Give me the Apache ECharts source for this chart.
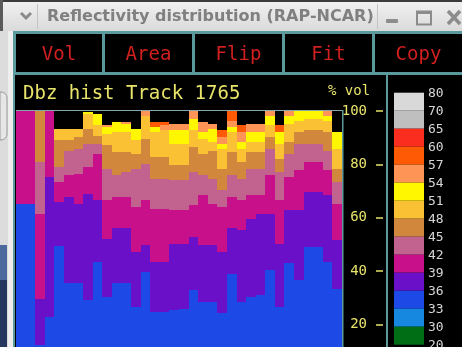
<!DOCTYPE html>
<html>
<head>
<meta charset="utf-8">
<script src="https://cdn.jsdelivr.net/npm/echarts@6/dist/echarts.min.js"></script>
<style>
html, body { margin: 0; padding: 0; overflow: hidden; background: #000; }
#chart { width: 462px; height: 400px; }
</style>
</head>
<body>
<div id="chart"></div>
<script>
// Radar scans along the track (one column each)
const scans = [1, 2, 3, 4, 5, 6, 7, 8, 9, 10, 11, 12, 13, 14, 15, 16, 17,
  18, 19, 20, 21, 22, 23, 24, 25, 26, 27, 28, 29, 30, 31, 32, 33, 34];

// Cumulative % of volume with reflectivity below each threshold (dBZ)
const below36 = [65.3, 65.3, 12.3, 22.9, 49.3, 35.6, 35.6, 29.2, 43.5, 30.4, 35.4, 35.4, 26.7, 39.8, 24.8, 24.8, 25.4,
  26.0, 32.9, 28.5, 28.5, 24.2, 39.1, 28.5, 30.4, 31.0, 40.4, 26.7, 42.9, 36.6, 49.1, 49.1, 43.5, 33.5];
const below39 = [65.3, 65.3, 29.5, 75.3, 65.9, 67.8, 65.3, 69.0, 66.5, 52.2, 56.0, 56.0, 47.2, 49.7, 43.5, 43.5, 50.3,
  50.3, 52.8, 49.7, 49.7, 47.2, 56.0, 55.4, 59.7, 61.6, 61.6, 50.3, 62.8, 62.8, 69.7, 69.7, 68.4, 51.6];
const below42 = [100, 100, 61.6, 100, 73.4, 75.9, 76.5, 79.0, 84.0, 66.5, 67.8, 67.8, 64.0, 66.5, 63.4, 63.4, 62.8,
  62.8, 64.7, 68.4, 65.3, 64.0, 67.8, 66.5, 68.4, 68.4, 75.9, 66.5, 75.3, 77.8, 80.9, 80.9, 77.8, 65.3];
const below45 = [100, 100, 80.9, 100, 79.0, 85.2, 85.9, 87.7, 87.7, 78.4, 75.9, 77.1, 78.4, 80.2, 74.6, 74.6, 74.0,
  74.0, 77.1, 75.9, 74.6, 70.3, 75.9, 74.6, 78.4, 78.4, 85.9, 77.1, 84.0, 87.7, 87.7, 87.7, 85.2, 73.4];
const below48 = [100, 100, 100, 100, 89.2, 89.2, 90.2, 93.3, 90.8, 87.1, 84.6, 84.6, 84.0, 89.6, 82.7, 82.7, 79.6,
  79.6, 86.5, 84.0, 85.2, 78.4, 84.6, 80.9, 84.6, 84.6, 90.2, 82.1, 88.3, 92.1, 92.7, 92.7, 92.1, 78.4];
const below51 = [100, 100, 100, 100, 93.3, 93.3, 93.3, 99.0, 94.6, 91.5, 92.1, 92.1, 89.0, 98.3, 92.1, 92.7, 87.7,
  87.7, 92.7, 89.6, 88.3, 85.9, 92.1, 85.9, 88.3, 88.3, 94.6, 87.7, 95.2, 96.4, 97.1, 97.1, 96.4, 85.9];
const below54 = [100, 100, 100, 100, 93.3, 93.3, 93.3, 99.6, 99.0, 94.0, 95.8, 95.2, 93.3, 98.3, 94.0, 92.7, 92.7,
  92.7, 97.1, 92.1, 93.3, 87.7, 94.0, 88.3, 92.1, 92.1, 98.3, 92.1, 98.3, 100, 100, 100, 98.3, 92.1];
const below57 = [100, 100, 100, 100, 93.3, 93.3, 93.3, 99.6, 99.0, 94.6, 95.8, 95.8, 93.3, 100, 94.0, 94.6, 95.2,
  95.2, 100, 95.8, 95.2, 90.2, 96.4, 92.1, 95.2, 95.2, 100, 92.1, 100, 100, 100, 100, 100, 92.1];
const below60 = [100, 100, 100, 100, 93.3, 93.3, 93.3, 99.6, 99.0, 94.6, 95.8, 95.8, 93.3, 100, 95.8, 95.8, 95.2,
  95.2, 100, 95.8, 95.2, 92.7, 100, 94.6, 95.2, 95.2, 100, 94.6, 100, 100, 100, 100, 100, 92.1];

// Colour scale: level labels (dBZ) and the colour between each pair
const levelLabels = ['80', '70', '65', '60', '57', '54', '51', '48', '45', '42', '39', '36', '33', '30', '20'];
const levelColors = ['#d9d9d9', '#bfbfbf', '#fb2d1e', '#fe5a05', '#fe9455', '#fff700', '#f9c133',
  '#d2883c', '#c2628f', '#c9108b', '#6b10c9', '#1d4ae6', '#1688e0', '#006e14'];

// Vertical scale ticks (% vol)
const volTicks = [0, 20, 40, 60, 80, 100];

// Button captions
const buttonNames = ['Vol', 'Area', 'Flip', 'Fit', 'Copy'];

const MONO = "'DejaVu Sans Mono', 'Liberation Mono', monospace";
const TEAL = '#5b9a9c';

// Each cumulative array is drawn as a full-height column; lower thresholds are painted over higher ones.
const layers = [
  { data: below60, color: '#fe5a05' },
  { data: below57, color: '#fe9455' },
  { data: below54, color: '#fff700' },
  { data: below51, color: '#f9c133' },
  { data: below48, color: '#d2883c' },
  { data: below45, color: '#c2628f' },
  { data: below42, color: '#c9108b' },
  { data: below39, color: '#6b10c9' },
  { data: below36, color: '#1d4ae6' }
];

// Pixel-aligned column: neighbours share their edges exactly, so no seams show
function renderColumn(params, api) {
  const i = api.value(0);
  const base = api.coord([i, 0]);
  const top = api.coord([i, api.value(1)]);
  const half = api.size([1, 0])[0] / 2;
  const x0 = Math.round(base[0] - half);
  const x1 = Math.round(base[0] + half);
  const y0 = Math.round(top[1]);
  const y1 = Math.round(base[1]);
  return {
    type: 'rect',
    shape: { x: x0, y: y0, width: x1 - x0, height: y1 - y0 },
    style: { fill: api.visual('color') }
  };
}

const series = layers.map(l => ({
  type: 'custom',
  renderItem: renderColumn,
  data: l.data.map((v, i) => [i, v]),
  encode: { x: 0, y: 1 },
  itemStyle: { color: l.color },
  silent: true
}));

// Window chrome, buttons and colour key
const graphics = [];

// title bar
graphics.push({
  type: 'rect', shape: { x: 0, y: 0, width: 462, height: 31 },
  style: { fill: new echarts.graphic.LinearGradient(0, 0, 0, 1, [
    { offset: 0, color: '#f2f2f2' }, { offset: 1, color: '#dadada' }]) }
});
graphics.push({ type: 'rect', shape: { x: 0, y: 0, width: 462, height: 2 }, style: { fill: '#3c3c3c' } });
graphics.push({ type: 'rect', shape: { x: 0, y: 0, width: 3, height: 31 }, style: { fill: '#5a5a5a' } });
graphics.push({ type: 'polyline', shape: { points: [[21, 13], [26, 18], [31, 13]] },
  style: { stroke: '#8a8a8a', lineWidth: 3, fill: null } });
graphics.push({ type: 'rect', shape: { x: 37, y: 4, width: 1, height: 25 }, style: { fill: '#c4c4c4' } });
graphics.push({ type: 'rect', shape: { x: 377, y: 4, width: 1, height: 25 }, style: { fill: '#c4c4c4' } });
graphics.push({
  type: 'text', x: 47, y: 17,
  style: { text: 'Reflectivity distribution (RAP-NCAR)', fill: '#808080',
    font: "bold 16px 'DejaVu Sans', sans-serif", textVerticalAlign: 'middle' }
});
graphics.push({ type: 'rect', shape: { x: 386, y: 19, width: 12, height: 4, r: 1 }, style: { fill: '#8c8c8c' } });
graphics.push({ type: 'rect', shape: { x: 417, y: 11.5, width: 14, height: 13 },
  style: { fill: null, stroke: '#8c8c8c', lineWidth: 2 } });
graphics.push({ type: 'rect', shape: { x: 417, y: 11, width: 14, height: 3 }, style: { fill: '#8c8c8c' } });
graphics.push({ type: 'polyline', shape: { points: [[448, 11], [460, 24]] }, style: { stroke: '#8c8c8c', lineWidth: 3.5 } });
graphics.push({ type: 'polyline', shape: { points: [[460, 11], [448, 24]] }, style: { stroke: '#8c8c8c', lineWidth: 3.5 } });

// left window edge
graphics.push({ type: 'rect', shape: { x: 0, y: 31, width: 13, height: 316 }, style: { fill: '#dcdcdc' } });
graphics.push({ type: 'rect', shape: { x: 8, y: 31, width: 5, height: 316 }, style: { fill: '#eeeeee' } });
graphics.push({ type: 'rect', shape: { x: 0, y: 92, width: 7, height: 48, r: [0, 6, 6, 0] },
  style: { fill: '#e6e6e6', stroke: '#9a9a9a', lineWidth: 1 } });
graphics.push({ type: 'rect', shape: { x: 0, y: 245, width: 7, height: 35 }, style: { fill: '#4c6a9e' } });
graphics.push({ type: 'rect', shape: { x: 0, y: 280, width: 7, height: 67 }, style: { fill: '#24365e' } });

// button row
graphics.push({ type: 'rect', shape: { x: 13, y: 31, width: 449, height: 44 }, style: { fill: TEAL } });
graphics.push({ type: 'rect', shape: { x: 13, y: 75, width: 2, height: 272 }, style: { fill: TEAL } });
const buttonEdges = [[16, 102], [105, 192], [195, 282], [285, 372], [375, 462]];
buttonNames.forEach((name, i) => {
  const [x0, x1] = buttonEdges[i];
  graphics.push({ type: 'rect', shape: { x: x0, y: 34, width: x1 - x0, height: 38 }, style: { fill: '#000' } });
  graphics.push({
    type: 'text', x: (x0 + x1) / 2, y: 55,
    style: { text: name, fill: '#d21f1f', font: '19px ' + MONO, textAlign: 'center', textVerticalAlign: 'middle' }
  });
});

// chart captions
graphics.push({ type: 'text', x: 23, y: 94,
  style: { text: 'Dbz hist Track 1765', fill: '#e8e46a', font: '19px ' + MONO, textVerticalAlign: 'middle' } });
graphics.push({ type: 'text', x: 328, y: 91,
  style: { text: '% vol', fill: '#e8e46a', font: '14px ' + MONO, textVerticalAlign: 'middle' } });

// plot frame (top and right edges)
graphics.push({ type: 'rect', shape: { x: 16, y: 110, width: 327, height: 1 }, style: { fill: '#86a8a8' }, z: 10 });
graphics.push({ type: 'rect', shape: { x: 342, y: 110, width: 1.5, height: 240 }, style: { fill: TEAL }, z: 10 });

// colour key panel
graphics.push({ type: 'rect', shape: { x: 386, y: 75, width: 2, height: 272 }, style: { fill: TEAL } });
const keyTop = 92.7, keyStep = 18;
levelColors.forEach((c, i) => {
  graphics.push({ type: 'rect', shape: { x: 394, y: keyTop + i * keyStep, width: 30, height: keyStep }, style: { fill: c } });
});
levelLabels.forEach((t, i) => {
  graphics.push({ type: 'text', x: 428, y: keyTop + i * keyStep + 0.5,
    style: { text: t, fill: '#d6d6d6', font: '13px ' + MONO, textVerticalAlign: 'middle' } });
});

const chart = echarts.init(document.getElementById('chart'), null, { renderer: 'canvas' });
chart.setOption({
  backgroundColor: '#000',
  animation: false,
  grid: { left: 16, right: 120, top: 111, bottom: 22 },
  xAxis: {
    type: 'category', data: scans, boundaryGap: true,
    axisLine: { show: false }, axisTick: { show: false }, axisLabel: { show: false }, splitLine: { show: false }
  },
  yAxis: {
    type: 'value', position: 'right', offset: 41,
    min: volTicks[0], max: volTicks[volTicks.length - 1], interval: 20,
    axisLine: { show: false },
    axisTick: { show: true, inside: true, length: 7, lineStyle: { color: '#e8e46a', width: 1.5 } },
    axisLabel: { inside: true, margin: 16, color: '#e8e46a', fontFamily: MONO, fontSize: 14 },
    splitLine: { show: false }
  },
  series: series,
  graphic: graphics
});
</script>
</body>
</html>
